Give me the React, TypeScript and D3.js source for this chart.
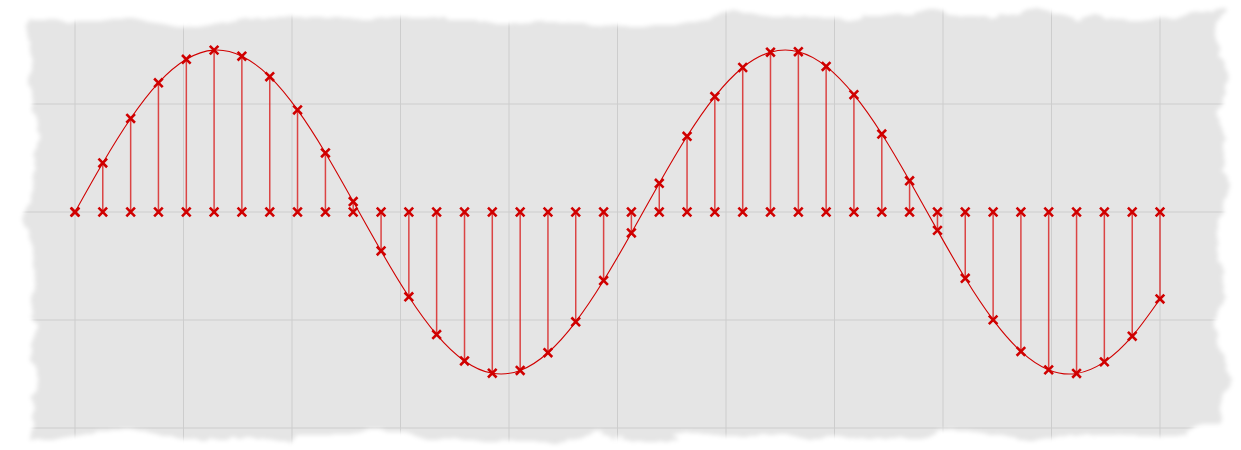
import React from "react";
import * as d3 from "d3";

// sample times (s) and sampled values
const sampleTimes: number[] = [
  0, 0.256, 0.513, 0.769, 1.026, 1.282, 1.538, 1.795, 2.051, 2.308,
  2.564, 2.821, 3.077, 3.333, 3.59, 3.846, 4.103, 4.359, 4.615, 4.872,
  5.128, 5.385, 5.641, 5.897, 6.154, 6.41, 6.667, 6.923, 7.179, 7.436,
  7.692, 7.949, 8.205, 8.462, 8.718, 8.974, 9.231, 9.487, 9.744, 10,
];
const sampleValues: number[] = [
  0, 0.454, 0.866, 1.196, 1.414, 1.499, 1.443, 1.253, 0.945, 0.547,
  0.097, -0.361, -0.785, -1.135, -1.379, -1.493, -1.467, -1.303, -1.017, -0.635,
  -0.194, 0.266, 0.701, 1.069, 1.338, 1.48, 1.484, 1.348, 1.086, 0.722,
  0.289, -0.17, -0.614, -0.999, -1.291, -1.462, -1.495, -1.388, -1.15, -0.805,
];
const xTicks: number[] = [0, 1, 2, 3, 4, 5, 6, 7, 8, 9, 10];
const yTicks: number[] = [-2, -1, 0, 1, 2];

const W = 1241;
const H = 450;
const RED = "#d00000";

export default function App() {
  const x = d3.scaleLinear().domain([0, 10]).range([75, 1160]);
  const y = d3.scaleLinear().domain([-2, 2]).range([428, -4]);

  const pts: [number, number][] = sampleTimes.map((t, i) => [x(t), y(sampleValues[i])]);
  const curvePath = d3.line().curve(d3.curveNatural)(pts) || "";

  const cross = (cx: number, cy: number, k: string) => {
    const s = 4.3;
    return (
      <path
        key={k}
        d={`M${cx - s},${cy - s}L${cx + s},${cy + s}M${cx - s},${cy + s}L${cx + s},${cy - s}`}
        stroke={RED}
        strokeWidth={2.6}
        strokeLinecap="butt"
        fill="none"
      />
    );
  };

  return (
    <svg
      width={W}
      height={H}
      style={{ position: "absolute", left: 0, top: 0, background: "#fff" }}
    >
      <defs>
        <filter id="torn" x="-5%" y="-10%" width="110%" height="120%">
          <feTurbulence type="fractalNoise" baseFrequency="0.012 0.03" numOctaves={5} seed={3} result="noise" />
          <feDisplacementMap in="SourceGraphic" in2="noise" scale={30} xChannelSelector="R" yChannelSelector="G" result="disp" />
          <feGaussianBlur in="disp" stdDeviation={2.2} />
        </filter>
        <mask id="paperMask">
          <rect x={0} y={0} width={W} height={H} fill="#000" />
          <rect x={34} y={18} width={1188} height={418} fill="#fff" filter="url(#torn)" />
        </mask>
      </defs>
      <g mask="url(#paperMask)">
        <rect x={0} y={0} width={W} height={H} fill="#e5e5e5" />
        {xTicks.map((t) => (
          <line key={"gx" + t} x1={x(t)} x2={x(t)} y1={0} y2={H} stroke="#cdcdcd" strokeWidth={1} />
        ))}
        {yTicks.map((v) => (
          <line key={"gy" + v} x1={0} x2={W} y1={y(v)} y2={y(v)} stroke="#cdcdcd" strokeWidth={1} />
        ))}
      </g>
      <path d={curvePath} fill="none" stroke={RED} strokeWidth={1.1} />
      {pts.map(([px, py], i) => (
        <line
          key={"s" + i}
          x1={px}
          x2={px}
          y1={y(0)}
          y2={py}
          stroke="#d81c1c"
          strokeOpacity={0.8}
          strokeWidth={1.5}
        />
      ))}
      {pts.map(([px], i) => cross(px, y(0), "b" + i))}
      {pts.map(([px, py], i) => cross(px, py, "v" + i))}
    </svg>
  );
}
